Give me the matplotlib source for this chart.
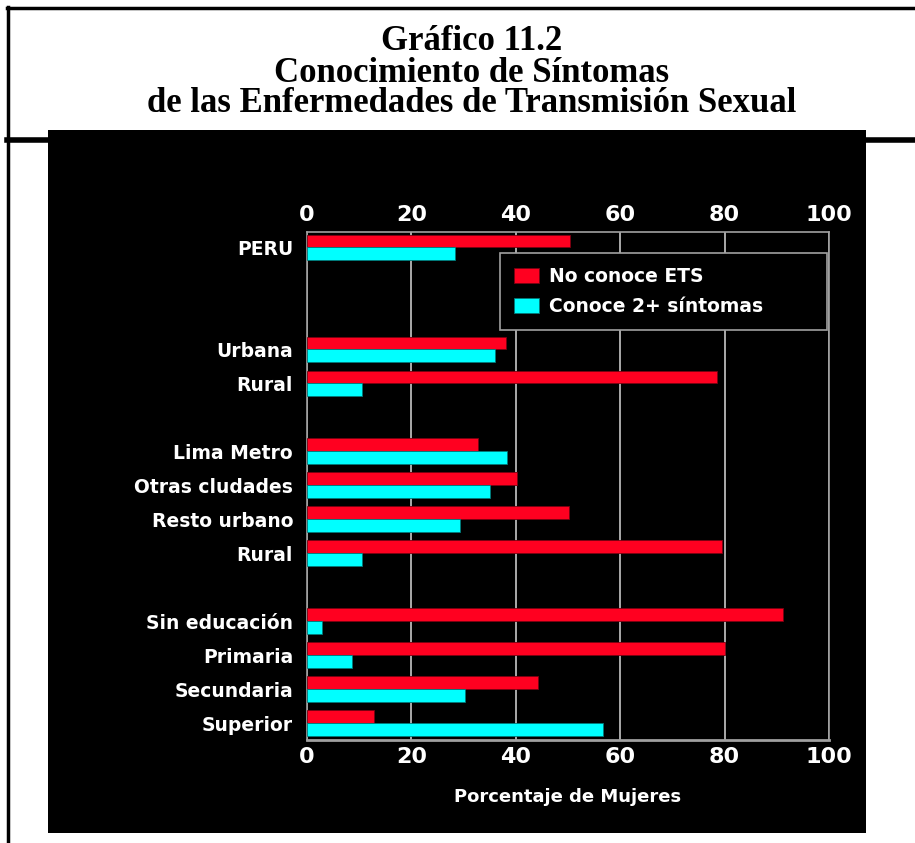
import numpy as np
import matplotlib
matplotlib.use("Agg")
import matplotlib.pyplot as plt
from matplotlib.patches import Rectangle
from matplotlib.lines import Line2D

# datos del grafico (porcentaje de mujeres)
categorias = ["PERU", "Urbana", "Rural", "Lima Metro", "Otras cludades",
              "Resto urbano", "Rural", "Sin educación", "Primaria",
              "Secundaria", "Superior"]
posiciones = [0, 3, 4, 6, 7, 8, 9, 11, 12, 13, 14]
no_conoce = [50.4, 38.2, 78.6, 32.7, 40.3, 50.2, 79.5, 91.1, 80.1, 44.2, 12.8]
conoce_2 = [28.4, 36.1, 10.6, 38.4, 35.0, 29.3, 10.6, 2.9, 8.7, 30.3, 56.8]
ticks_x = [0, 20, 40, 60, 80, 100]

W, H = 915, 843
fig = plt.figure(figsize=(W / 100, H / 100), dpi=100)
fig.patch.set_facecolor("white")


def fx(px):
    return px / W


def fy(py):
    return 1 - py / H


# marco de la pagina
fig.add_artist(Line2D([fx(7), fx(915)], [fy(7.5), fy(7.5)], color="black", lw=2.5,
                      transform=fig.transFigure))
fig.add_artist(Line2D([fx(8), fx(8)], [fy(6.5), fy(843)], color="black", lw=2.5,
                      transform=fig.transFigure))
fig.add_artist(Line2D([fx(7), fx(915)], [fy(139.5), fy(139.5)], color="black", lw=4,
                      transform=fig.transFigure))

# panel negro
fig.add_artist(Rectangle((fx(48), fy(833)), fx(866) - fx(48), fy(130) - fy(833),
                         transform=fig.transFigure, facecolor="black", edgecolor="none",
                         zorder=2))

# titulo
titulos = ["Gráfico 11.2", "Conocimiento de Síntomas",
           "de las Enfermedades de Transmisión Sexual"]
for t, yy in zip(titulos, [42, 73, 103]):
    fig.text(fx(472), fy(yy), t, ha="center", va="center", fontsize=25,
             fontweight="bold", family="Liberation Serif", color="black")

ax = fig.add_axes([fx(307), fy(740), fx(829) - fx(307), fy(232) - fy(740)], zorder=3)
ax.set_facecolor("black")

h = 0.374
pos = np.array(posiciones)
ax.barh(pos - h / 2, no_conoce, height=h, color="#ff0020", edgecolor="#7a0010",
        linewidth=0.6, label="No conoce ETS", zorder=3)
ax.barh(pos + h / 2, conoce_2, height=h, color="#00ffff", edgecolor="#007a7a",
        linewidth=0.6, label="Conoce 2+ síntomas", zorder=3)

ax.set_xlim(0, 100)
ax.set_ylim(14.5, -0.45)
ax.set_xticks(ticks_x)
ax.set_xticklabels([str(v) for v in ticks_x])
ax.set_yticks(posiciones)
ax.set_yticklabels(categorias)
ax.tick_params(axis="x", top=True, labeltop=True, bottom=True, labelbottom=True,
               length=0, pad=5, colors="white", labelsize=16)
ax.tick_params(axis="y", length=0, pad=10, colors="white", labelsize=13.5)
for lab in ax.get_xticklabels() + ax.get_yticklabels():
    lab.set_fontweight("bold")

ax.grid(axis="x", color="#d8d8d8", lw=1.1, zorder=1)
ax.set_axisbelow(True)
for s in ["left", "top", "right"]:
    ax.spines[s].set_color("#a0a0a0")
    ax.spines[s].set_linewidth(1.2)
ax.spines["bottom"].set_color("#a0a0a0")
ax.spines["bottom"].set_linewidth(2)

ax.set_xlabel("Porcentaje de Mujeres", color="white", fontsize=13,
              fontweight="bold", labelpad=15)

leg = ax.legend(loc="upper left", bbox_to_anchor=(0.3697, 0.812, 0.626, 0.147),
                mode="expand", borderaxespad=0,
                frameon=True, fancybox=False, fontsize=13.5, handlelength=1.35,
                handleheight=0.9, handletextpad=0.5, labelspacing=0.6,
                borderpad=0.75)
leg.get_frame().set_facecolor("black")
leg.get_frame().set_edgecolor("#a0a0a0")
leg.get_frame().set_linewidth(1.2)
leg.get_frame().set_alpha(1)
for t in leg.get_texts():
    t.set_color("white")
    t.set_fontweight("bold")

fig.savefig("out.png", dpi=100, facecolor="white")
